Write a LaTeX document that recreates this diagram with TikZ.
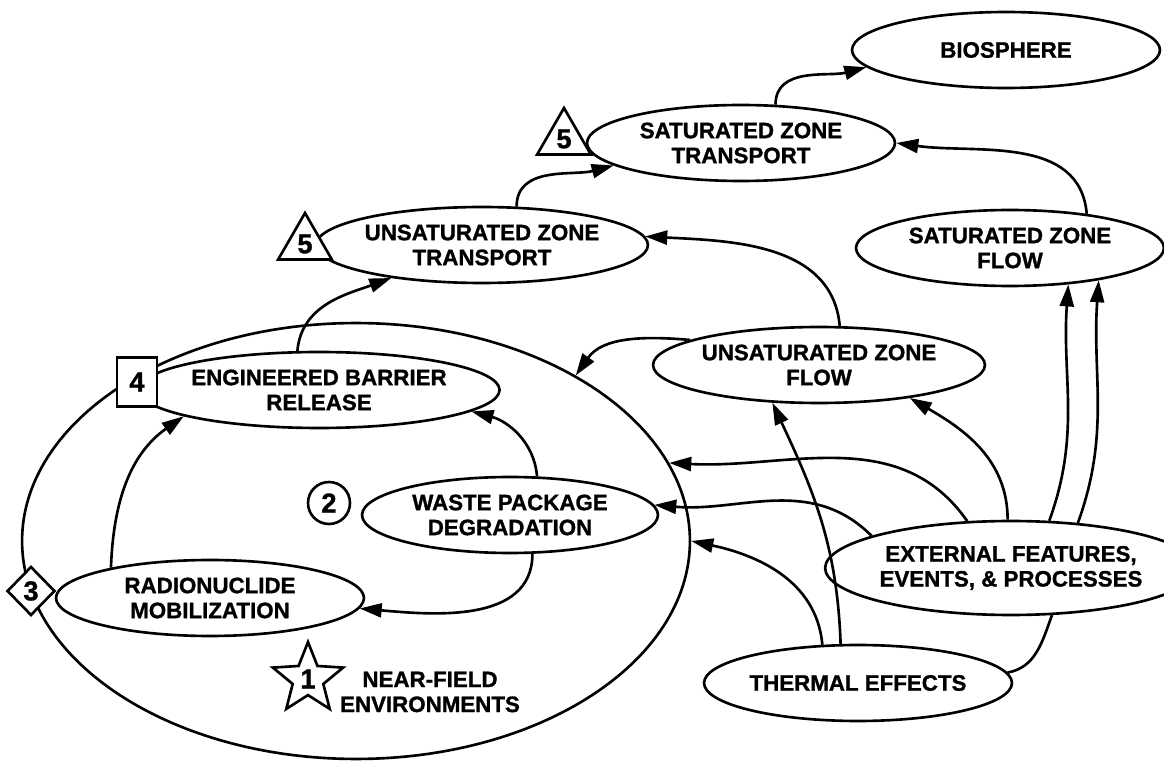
\documentclass[tikz,border=0pt]{standalone}
\usepackage{fontspec}
\setmainfont{Liberation Sans}[BoldFeatures={FakeBold=1.2}]
\usetikzlibrary{arrows.meta,shapes.geometric}

\begin{document}
\begin{tikzpicture}[x=0.02cm,y=-0.02cm,->,>={Triangle[length=0.44cm,width=0.28cm]},line width=1.5pt,
  font=\bfseries\fontsize{12.7}{14.2}\selectfont]
\tikzstyle{block}=[draw,ellipse,minimum width=6.16cm,minimum height=1.52cm,inner sep=0pt,align=center]
\tikzstyle{marker}=[draw,fill=white,inner sep=0pt,font=\bfseries\fontsize{15.5}{15.5}\selectfont]
\tikzstyle{trimark}=[marker,regular polygon,regular polygon sides=3,minimum size=1.24cm]

\useasboundingbox (0,0) rectangle (1164,763);

% near-field environment
\node[draw,ellipse,minimum width=13.36cm,minimum height=8.72cm] (nfe) at (356,541) {};
\node[align=center] (nfetext) at (430,692) {NEAR-FIELD\\ENVIRONMENTS};

\node[block] (bio) at (1006,50) {BIOSPHERE};
\node[block] (szt) at (741,143) {SATURATED ZONE\\TRANSPORT};
\node[block] (szf) at (1010,248) {SATURATED ZONE\\FLOW};
\node[block] (uzt) at (482,245) {UNSATURATED ZONE\\TRANSPORT};
\node[block] (uzf) at (819,365) {UNSATURATED ZONE\\FLOW};
\node[block] (ebr) at (319,390) {ENGINEERED BARRIER\\RELEASE};
\node[block,minimum width=5.92cm] (wpd) at (510,515) {WASTE PACKAGE\\DEGRADATION};
\node[block] (rm) at (210,598) {RADIONUCLIDE\\MOBILIZATION};
\node[block,minimum width=6.08cm,minimum height=1.88cm] (efep) at (1011,568) {EXTERNAL FEATURES,\\EVENTS, \& PROCESSES};
\node[block] (te) at (858,683) {THERMAL EFFECTS};

% markers
\node[trimark] (tri5a) at (305,244) {5};
\node[trimark] (tri5b) at (564,139) {5};
\node[marker,minimum width=0.8cm,minimum height=0.98cm] (sq4) at (137,382) {4};
\node[marker,circle,minimum size=0.84cm] (circ2) at (329,503) {2};
\node[marker,diamond,minimum width=0.96cm,minimum height=0.98cm] (dia3) at (31,591) {3};
\node[marker,star,star points=5,star point ratio=2.3,minimum size=1.48cm] (star1) at (308,679) {1};

\path
(ebr.119) edge[out=85,in=200] (uzt.200)
(rm.163) edge[out=88,in=215] (ebr.191)
(wpd.55) edge[out=95,in=-15] (ebr.-8)
(wpd.-60) edge[out=-90,in=-5] (rm.-4)
(uzt.48) edge[out=90,in=195] (szt.190)
(szt.48) edge[out=90,in=195] (bio.187)
(szf.24) edge[out=95,in=-8] (szt.0)
(uzf.62) edge[out=95,in=-3] (uzt.3)
(uzf.169) edge[out=175,in=55] (nfe.37)
(efep.94) edge[out=90,in=-30] (uzf.-20)
(efep.51) edge[out=70,in=-94] (szf.-32)
(efep.34) edge[out=70,in=-94] (szf.-20)
(efep.133) edge[out=125,in=-3] (nfe.14)
(efep.167) edge[out=135,in=-5] (wpd.4)
(te.133) edge[out=95,in=-12] (nfe.0)
(te.114) edge[out=92,in=-65] (uzf.-141)
(efep.-49) edge[-,out=-110,in=10] (te.4)
;
\end{tikzpicture}
\end{document}
